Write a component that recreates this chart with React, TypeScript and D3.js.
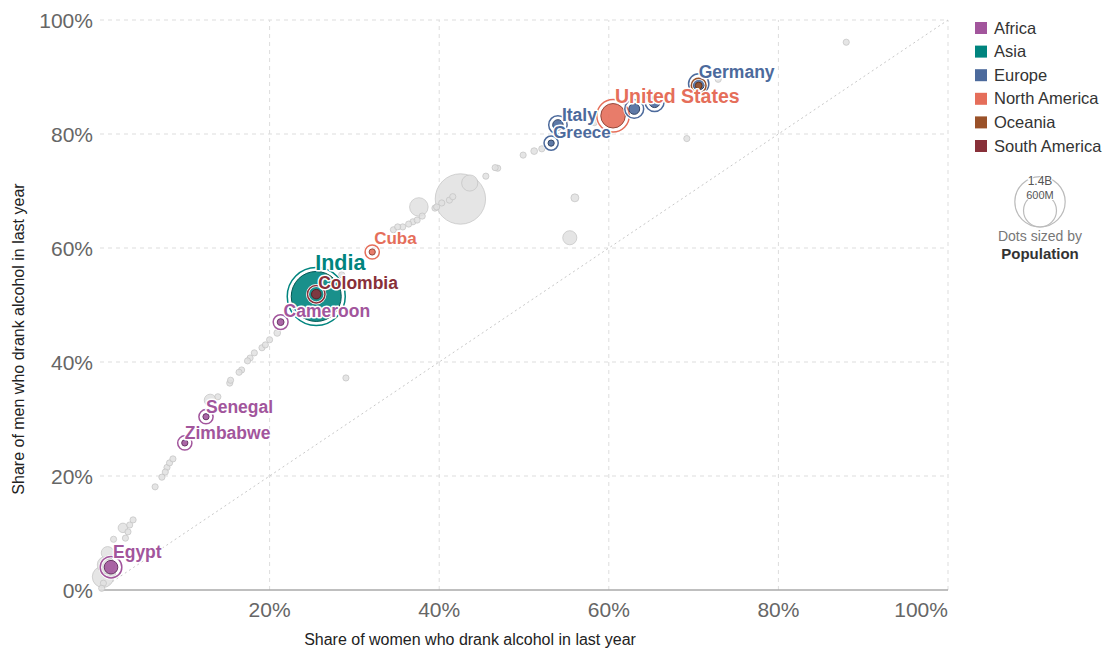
import React from "react";
import * as d3 from "d3";

const regions = ["Africa", "Asia", "Europe", "North America", "Oceania", "South America"];
const regionColors = ["#a2559c", "#00847e", "#4c6a9c", "#e56e5a", "#9a5129", "#883039"];

const xTicks = [20, 40, 60, 80, 100];
const yTicks = [0, 20, 40, 60, 80, 100];

// Unhighlighted countries: [women %, men %, population (millions)]
const otherWomen = [88.0, 69.2, 72.9, 56.0, 55.4, 51.2, 52.1, 49.9, 46.9, 46.6, 45.5, 43.6, 42.5, 41.6, 41.2, 40.3, 39.7, 39.5, 37.6, 38.0, 37.4, 36.9, 36.4, 35.7, 35.1, 34.6, 29.0, 20.9, 20.0, 19.5, 19.1, 18.2, 17.7, 17.4, 16.7, 16.4, 15.4, 15.3, 13.9, 13.0, 8.6, 8.2, 7.9, 7.7, 7.3, 6.5, 3.9, 3.5, 2.7, 3.3, 1.6, 3.0, 0.9, 0.7, 0.35, 0.4, 0.2, 1.5, 23.0, 27.5, 28.5, 30.0, 58.3, 62.0, 66.5];
const otherMen = [96.1, 79.2, 89.6, 68.8, 61.8, 77.0, 77.4, 76.3, 74.0, 74.1, 72.6, 71.4, 68.6, 69.0, 68.4, 67.9, 67.2, 67.0, 67.2, 65.6, 64.9, 64.6, 64.2, 63.7, 63.7, 63.2, 37.2, 45.1, 43.9, 43.0, 42.5, 41.6, 40.7, 40.2, 38.6, 38.2, 36.8, 36.3, 33.9, 33.3, 23.0, 22.3, 21.5, 20.7, 19.8, 18.1, 12.3, 11.4, 10.9, 10.2, 8.9, 9.1, 6.5, 4.4, 2.3, 1.2, 0.3, 2.8, 49.5, 54.0, 55.3, 57.0, 82.0, 84.0, 86.5];
const otherPop = [5, 10, 9, 35, 110, 25, 15, 9, 5, 5, 7, 145, 1400, 6, 8, 7, 6, 9, 190, 5, 6, 7, 5, 6, 4, 5, 3, 25, 8, 6, 7, 5, 6, 5, 14, 9, 5, 7, 12, 80, 4, 5, 6, 5, 9, 3, 6, 8, 50, 7, 4, 4, 90, 165, 250, 12, 8, 20, 5, 6, 5, 4, 5, 6, 6];

// Highlighted countries
const hlNames = ["India", "United States", "Germany", "Australia", "France", "United Kingdom", "Italy", "Greece", "Cuba", "Colombia", "Cameroon", "Senegal", "Zimbabwe", "Egypt"];
const hlRegion = ["Asia", "North America", "Europe", "Oceania", "Europe", "Europe", "Europe", "Europe", "North America", "South America", "Africa", "Africa", "Africa", "Africa"];
const hlWomen = [25.5, 60.5, 70.6, 70.6, 63.0, 65.4, 54.0, 53.2, 32.1, 25.5, 21.3, 12.5, 10.0, 1.3];
const hlMen = [51.5, 83.2, 88.8, 88.5, 84.4, 85.6, 81.6, 78.4, 59.3, 51.9, 47.0, 30.4, 25.8, 4.0];
const hlPop = [1380, 331, 83, 25, 65, 67, 60, 10, 11, 50, 26, 16, 15, 102];
const hlLabeled = [true, true, true, false, false, false, true, true, true, true, true, true, true, true];

// label layout (pixel offsets from point, font size)
const labelLayout: Record<string, [number, number, number]> = {
  India: [-1, -26, 21.5],
  "United States": [2, -13, 19.5],
  Germany: [0, -6, 17.5],
  Italy: [4, -4, 17.5],
  Greece: [2, -5, 17],
  Cuba: [2, -8, 17],
  Colombia: [2, -5, 17.5],
  Cameroon: [3, -5, 17.5],
  Senegal: [0, -4, 17.5],
  Zimbabwe: [0, -4, 17.5],
  Egypt: [2, -9, 17.5],
};

const W = 1108;
const H = 655;
const FONT = "'Liberation Sans', Arial, Helvetica, sans-serif";

export default function App() {
  const x = d3.scaleLinear().domain([0, 100]).range([100, 948]);
  const y = d3.scaleLinear().domain([0, 100]).range([590, 20]);
  const rScale = d3.scaleSqrt().domain([0, 1380]).range([0, 25]);
  const rad = (p: number) => Math.max(3.1, rScale(p));
  const color = d3.scaleOrdinal<string, string>().domain(regions).range(regionColors);

  const others = otherWomen
    .map((w, i) => ({ w, m: otherMen[i], p: otherPop[i] }))
    .sort((a, b) => b.p - a.p);
  const hl = hlNames
    .map((n, i) => ({ n, reg: hlRegion[i], w: hlWomen[i], m: hlMen[i], p: hlPop[i], lab: hlLabeled[i] }))
    .sort((a, b) => b.p - a.p);

  const legR1 = rScale(1400);
  const legR2 = rScale(600);
  const legBottom = 227;

  return (
    <svg width={W} height={H} style={{ position: "absolute", left: 0, top: 0, fontFamily: FONT }}>
      <rect width={W} height={H} fill="#fff" />
      {/* gridlines */}
      {yTicks.filter((t) => t > 0).map((t) => (
        <line key={"gy" + t} x1={x(0)} x2={x(100)} y1={y(t)} y2={y(t)} stroke="#ddd" strokeDasharray="4,4" />
      ))}
      {xTicks.map((t) => (
        <line key={"gx" + t} x1={x(t)} x2={x(t)} y1={y(0)} y2={y(100)} stroke="#ddd" strokeDasharray="4,4" />
      ))}
      <line x1={x(0)} x2={x(100)} y1={y(0)} y2={y(0)} stroke="#aaa" strokeWidth={1.5} />
      {/* diagonal */}
      <line x1={x(0)} y1={y(0)} x2={x(100)} y2={y(100)} stroke="#c8c8c8" strokeDasharray="2,3" />

      {/* tick labels */}
      {yTicks.map((t) => (
        <text key={"ty" + t} x={93} y={y(t)} dy="0.36em" textAnchor="end" fontSize={21} fill="#666">
          {t}%
        </text>
      ))}
      {xTicks.map((t) => (
        <text key={"tx" + t} x={t === 100 ? x(100) : x(t)} y={617} textAnchor={t === 100 ? "end" : "middle"} fontSize={21} fill="#666">
          {t}%
        </text>
      ))}
      <text x={470} y={645} textAnchor="middle" fontSize={16} fill="#222">
        Share of women who drank alcohol in last year
      </text>
      <text transform={`translate(24,339) rotate(-90)`} textAnchor="middle" fontSize={16} fill="#222">
        Share of men who drank alcohol in last year
      </text>

      {/* other points */}
      {others.map((d, i) => (
        <circle key={"o" + i} cx={x(d.w)} cy={y(d.m)} r={rad(d.p)} fill="#e0e0e0" fillOpacity={0.85} stroke="#c2c2c2" strokeWidth={0.7} />
      ))}

      {/* highlighted points */}
      {hl.map((d) => {
        const c = color(d.reg);
        const r = rad(d.p);
        return (
          <g key={"h" + d.n}>
            <circle cx={x(d.w)} cy={y(d.m)} r={r + 4} fill="none" stroke="#fff" strokeWidth={3} />
            <circle cx={x(d.w)} cy={y(d.m)} r={r + 4} fill="none" stroke={c} strokeWidth={1.5} />
            <circle cx={x(d.w)} cy={y(d.m)} r={r} fill={c} fillOpacity={0.9} stroke={d3.color(c)!.darker(1.2).toString()} strokeWidth={1} />
          </g>
        );
      })}

      {/* labels */}
      {hl.filter((d) => d.lab).map((d) => {
        const [dx, dy, fs] = labelLayout[d.n];
        return (
          <text
            key={"l" + d.n}
            x={x(d.w) + dx}
            y={y(d.m) + dy}
            fontSize={fs}
            fontWeight="bold"
            fill={color(d.reg)}
            stroke="#fff"
            strokeWidth={3}
            strokeLinejoin="round"
            style={{ paintOrder: "stroke" }}
          >
            {d.n}
          </text>
        );
      })}

      {/* legend */}
      {regions.map((reg, i) => (
        <g key={"lg" + reg} transform={`translate(975,${22 + i * 23.6})`}>
          <rect width={12} height={12} fill={color(reg)} />
          <text x={19} y={11.5} fontSize={16.5} fill="#333">
            {reg}
          </text>
        </g>
      ))}
      <circle cx={1040} cy={legBottom - legR1} r={legR1} fill="none" stroke="#bbb" strokeWidth={1.2} />
      <circle cx={1040} cy={legBottom - legR2} r={legR2} fill="none" stroke="#bbb" strokeWidth={1.2} />
      <text x={1040} y={185} textAnchor="middle" fontSize={12} fill="#555" stroke="#fff" strokeWidth={2} style={{ paintOrder: "stroke" }}>
        1.4B
      </text>
      <text x={1040} y={199} textAnchor="middle" fontSize={11} fill="#555" stroke="#fff" strokeWidth={2} style={{ paintOrder: "stroke" }}>
        600M
      </text>
      <text x={1040} y={241} textAnchor="middle" fontSize={14} fill="#777">
        Dots sized by
      </text>
      <text x={1040} y={259} textAnchor="middle" fontSize={15} fontWeight="bold" fill="#333">
        Population
      </text>
    </svg>
  );
}
